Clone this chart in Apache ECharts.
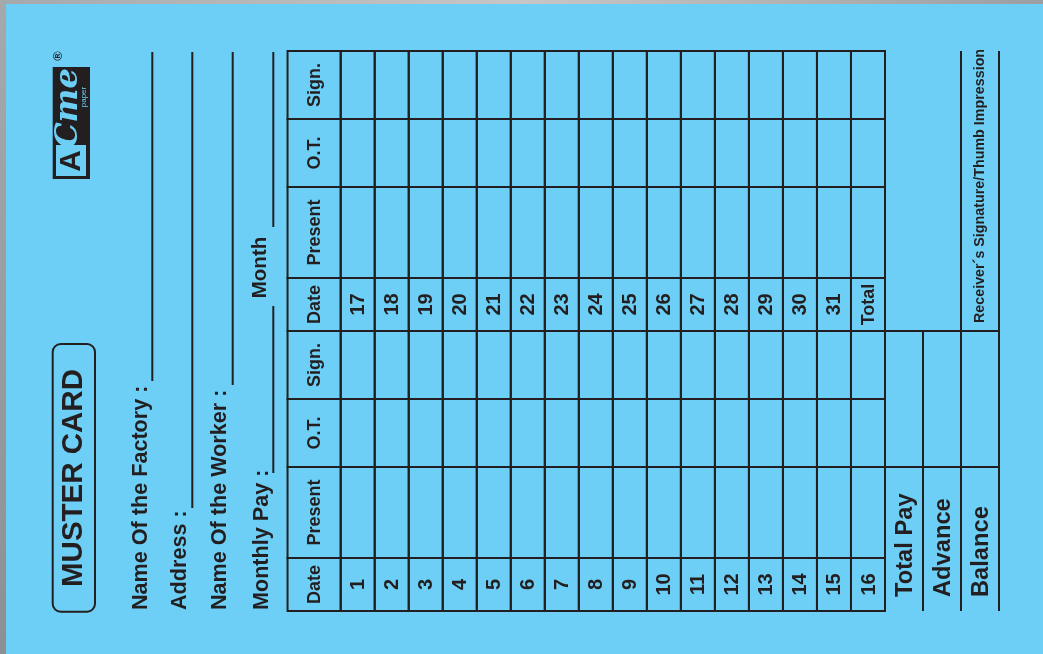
<!DOCTYPE html>
<html><head><meta charset="utf-8">
<script src="https://cdn.jsdelivr.net/npm/echarts@6/dist/echarts.min.js"></script>
<style>
html,body{margin:0;padding:0;width:1043px;height:654px;overflow:hidden;background:#6ecff6}
#chart{width:1043px;height:654px}
</style></head><body><div id="chart"></div>
<script>
// ---- content ----
const cardTitle = 'MUSTER CARD';
const formFields = ['Name Of the Factory :', 'Address :', 'Name Of the Worker :', 'Monthly Pay :'];
const monthLabel = 'Month';
const columnHeaders = ['Date', 'Present', 'O.T.', 'Sign.'];
const firstHalfDates = ['1','2','3','4','5','6','7','8','9','10','11','12','13','14','15','16'];
const secondHalfDates = ['17','18','19','20','21','22','23','24','25','26','27','28','29','30','31','Total'];
const summaryLabels = ['Total Pay', 'Advance', 'Balance'];
const receiverLabel = 'Receiver\u00b4s Signature/Thumb Impression';

// ---- layout / style (not data) ----
const INK = '#231f20';
const BG = '#6ecff6';
const FONT = '"Liberation Sans", Arial, sans-serif';
const fieldSpan = [53, 91, 68, 68];     // widths of Date / Present / O.T. / Sign. along the card
const halfSpan = 280;
const headerWidth = 1.5625;             // header column width in day-row units
const summaryWidth = 1.117;             // summary column width in day-row units
const ROT = Math.PI / 2;

// ---- build table cells ----
const cells = [];
[firstHalfDates, secondHalfDates].forEach((dates, half) => {
  columnHeaders.forEach((h, field) => {
    cells.push({ value: [-1, half, field], label: h, kind: 'head' });
    dates.forEach((d, i) => {
      cells.push({ value: [i, half, field], label: field === 0 ? d : '', kind: d === 'Total' ? 'head' : 'num' });
    });
  });
});

function fieldStart(half, field) {
  let s = half * halfSpan;
  for (let k = 0; k < field; k++) s += fieldSpan[k];
  return s;
}

function renderCell(params, api) {
  const c = cells[params.dataIndex];
  const col = api.value(0), half = api.value(1), field = api.value(2);
  const x0 = col < 0 ? -headerWidth : col, x1 = col < 0 ? 0 : col + 1;
  const y0 = fieldStart(half, field), y1 = y0 + fieldSpan[field];
  const p0 = api.coord([x0, y0]), p1 = api.coord([x1, y1]);
  const rx = Math.min(p0[0], p1[0]), ry = Math.min(p0[1], p1[1]);
  const w = Math.abs(p1[0] - p0[0]), h = Math.abs(p1[1] - p0[1]);
  const children = [{
    type: 'rect', shape: { x: rx, y: ry, width: w, height: h },
    style: { fill: 'none', stroke: INK, lineWidth: 2 }
  }];
  if (c.label) {
    children.push({
      type: 'text', x: rx + w / 2 + 1, y: ry + h / 2, rotation: ROT,
      style: { text: c.label, font: 'bold ' + (c.kind === 'num' ? 20 : 18) + 'px ' + FONT,
               fill: INK, textAlign: 'center', textVerticalAlign: 'middle', verticalAlign: 'middle' }
    });
  }
  return { type: 'group', children };
}

function renderSummary(params, api) {
  const k = params.dataIndex;
  const x0 = 16 + k * summaryWidth, x1 = x0 + summaryWidth;
  const top = k === 0 ? halfSpan : 2 * halfSpan;
  const a = api.coord([x1, 0]), b = api.coord([x1, top]);
  const children = [
    { type: 'line', shape: { x1: a[0], y1: a[1], x2: b[0], y2: b[1] }, style: { stroke: INK, lineWidth: 2 } }
  ];
  [fieldSpan[0] + fieldSpan[1], halfSpan].forEach(yv => {
    const l = api.coord([x0, yv]), r = api.coord([x1, yv]);
    children.push({ type: 'line', shape: { x1: l[0], y1: l[1], x2: r[0], y2: r[1] }, style: { stroke: INK, lineWidth: 2 } });
  });
  const t = api.coord([(x0 + x1) / 2, 14]);
  children.push({
    type: 'text', x: t[0] + 1, y: t[1], rotation: ROT,
    style: { text: summaryLabels[k], font: 'bold 23.7px ' + FONT, fill: INK,
             textAlign: 'left', textVerticalAlign: 'middle', verticalAlign: 'middle' }
  });
  if (k === summaryLabels.length - 1) {
    const r = api.coord([(x0 + x1) / 2, halfSpan + 8]);
    children.push({
      type: 'text', x: r[0], y: r[1], rotation: ROT,
      style: { text: receiverLabel, font: 'bold 14.3px ' + FONT, fill: INK,
               textAlign: 'left', textVerticalAlign: 'middle', verticalAlign: 'middle' }
    });
  }
  return { type: 'group', children };
}

// ---- decorations ----
const rotText = (x, y, text, font, align, fill) => ({
  type: 'text', x, y, rotation: ROT,
  style: { text, font, fill: fill || INK, textAlign: align || 'left', textVerticalAlign: 'middle', verticalAlign: 'middle' }
});
const vline = (x, y1, y2) => ({ type: 'line', shape: { x1: x, y1, x2: x, y2 }, style: { stroke: INK, lineWidth: 2 } });

const fieldX = [140.7, 180.5, 220.5, 261.7];
const lineX = [152.3, 192.3, 232.7, 273.3];
const lineEnd = [381, 508, 385, 473];

const graphics = [
  { type: 'rect', shape: { x: 0, y: 0, width: 1043, height: 4 },
    style: { fill: new echarts.graphic.LinearGradient(0, 0, 1, 0, [
      { offset: 0, color: '#a6a9ac' }, { offset: 0.5, color: '#c6c6c6' }, { offset: 1, color: '#9c9fa2' }]) } },
  { type: 'rect', shape: { x: 0, y: 0, width: 6, height: 654 },
    style: { fill: new echarts.graphic.LinearGradient(0, 0, 0, 1, [
      { offset: 0, color: '#a6a9ac' }, { offset: 1, color: '#8d9093' }]) } },
  // logo
  rotText(58, 56, '\u00ae', 'bold 13px ' + FONT, 'center'),
  { type: 'rect', shape: { x: 52.7, y: 67, width: 37.3, height: 112 }, style: { fill: INK } },
  { type: 'rect', shape: { x: 56, y: 145, width: 30, height: 31 }, style: { fill: BG } },
  rotText(72, 161, 'A', 'bold 30px ' + FONT, 'center'),
  rotText(69, 108, 'Cme', 'italic bold 32px "DejaVu Serif", serif', 'center', BG),
  rotText(84, 97, 'paper', '8px ' + FONT, 'center', BG),
  // title box
  { type: 'rect', shape: { x: 52.7, y: 344, width: 42.3, height: 267.7, r: 8 }, style: { fill: 'none', stroke: INK, lineWidth: 2 } },
  rotText(74, 478, cardTitle, 'bold 29.5px ' + FONT, 'center'),
  // month
  rotText(260.5, 267.5, monthLabel, 'bold 20.5px ' + FONT, 'center'),
  vline(273.3, 52, 227),
];
formFields.forEach((f, i) => {
  graphics.push(rotText(fieldX[i], 610, f, 'bold 21.6px ' + FONT, 'left'));
  graphics.push(vline(lineX[i], i === 3 ? 306 : 52, lineEnd[i]));
});

const chart = echarts.init(document.getElementById('chart'), null, { renderer: 'canvas' });
chart.setOption({
  backgroundColor: BG,
  animation: false,
  grid: { left: 340.7, right: 158, top: 51, bottom: 43 },
  xAxis: { type: 'value', min: 0, max: 16, show: false },
  yAxis: { type: 'value', min: 0, max: 2 * halfSpan, show: false },
  graphic: graphics,
  series: [
    { type: 'custom', renderItem: renderCell, data: cells.map(c => c.value), clip: false, silent: true },
    { type: 'custom', renderItem: renderSummary, data: summaryLabels.map((s, k) => [k]), clip: false, silent: true }
  ]
});
</script></body></html>
